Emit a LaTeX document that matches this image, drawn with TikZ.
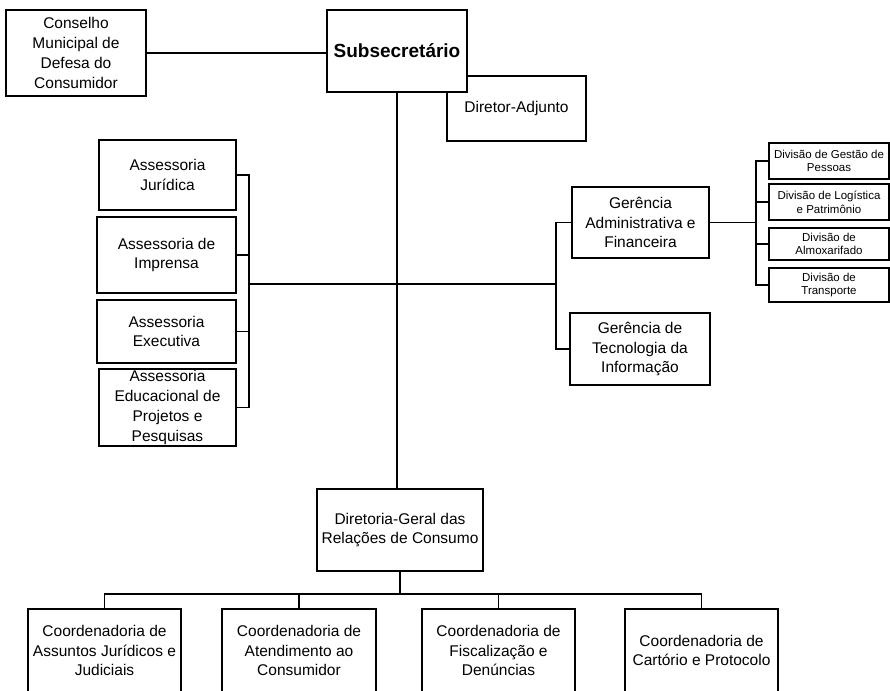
\documentclass[tikz,border=0pt]{standalone}
\usepackage{fontspec}
\setmainfont{Liberation Sans}
\begin{document}
\begin{tikzpicture}[x=1pt,y=-1pt,
  box/.style={draw=black,fill=white,line width=1.4pt,inner sep=0pt,align=center,
    font=\fontsize{15.5}{19.8}\selectfont},
  smallbox/.style={box,font=\fontsize{11.5}{13.7}\selectfont},
  conn/.style={draw=black,line width=1.3pt}]
\useasboundingbox (0,0) rectangle (890,690);
\clip (0,0) rectangle (890,690);
% top
\node[box,minimum width=140,minimum height=86] (cons) at (76,53) {Conselho\\Municipal de\\Defesa do\\Consumidor};
\node[box,minimum width=139,minimum height=65] (adj) at (516.5,108.5) {Diretor-Adjunto};
\node[box,minimum width=140,minimum height=82,font=\fontsize{19}{23}\selectfont\bfseries] (sub) at (397,51) {Subsecretário};
% assessorias
\node[box,minimum width=137,minimum height=70] (aj) at (167.5,175) {Assessoria\\Jurídica};
\node[box,minimum width=139,minimum height=76] (ai) at (166.5,255) {Assessoria de\\Imprensa};
\node[box,minimum width=139,minimum height=63] (ae) at (166.5,331.5) {Assessoria\\Executiva};
\node[box,minimum width=137,minimum height=77] (aed) at (167.5,407.5) {Assessoria\\Educacional de\\Projetos e\\Pesquisas};
% gerencias
\node[box,minimum width=137,minimum height=71] (ga) at (640.5,222.5) {Gerência\\Administrativa e\\Financeira};
\node[box,minimum width=140,minimum height=72] (gt) at (640,349) {Gerência de\\Tecnologia da\\Informação};
% divisoes
\node[smallbox,minimum width=120,minimum height=36] (d1) at (829,161) {Divisão de Gestão de\\Pessoas};
\node[smallbox,minimum width=120,minimum height=36] (d2) at (829,202) {Divisão de Logística\\e Patrimônio};
\node[smallbox,minimum width=120,minimum height=32] (d3) at (829,244) {Divisão de\\Almoxarifado};
\node[smallbox,minimum width=120,minimum height=34] (d4) at (829,285) {Divisão de\\Transporte};
% diretoria
\node[box,minimum width=166,minimum height=82] (dg) at (400,530) {Diretoria-Geral das\\Relações de Consumo};
% coordenadorias
\node[box,minimum width=153,minimum height=83] (c1) at (104.5,650.5) {Coordenadoria de\\Assuntos Jurídicos e\\Judiciais};
\node[box,minimum width=154,minimum height=83] (c2) at (299,650.5) {Coordenadoria de\\Atendimento ao\\Consumidor};
\node[box,minimum width=153,minimum height=83] (c3) at (498.5,650.5) {Coordenadoria de\\Fiscalização e\\Denúncias};
\node[box,minimum width=153,minimum height=83] (c4) at (701.5,650.5) {Coordenadoria de\\Cartório e Protocolo};
% connectors
\coordinate (j) at (397,284);
\coordinate (lb) at (249,284);
\coordinate (rb) at (556,284);
\coordinate (db) at (756,222.5);
\coordinate (bb) at (400,594);
\draw[conn] (cons.east) -- (cons.east -| sub.west);
\draw[conn] (sub.south) -- (sub.south |- dg.north);
\draw[conn] (lb) -- (rb);
\draw[conn] (aj.east) -| (lb);
\draw[conn] (aed.east) -| (lb);
\draw[conn] (ai.east) -- (ai.east -| lb);
\draw[conn] (ae.east) -- (ae.east -| lb);
\draw[conn] (ga.west) -| (rb);
\draw[conn] (gt.west) -| (rb);
\draw[conn] (ga.east) -- (db);
\draw[conn] (d1.west) -| (db);
\draw[conn] (d4.west) -| (db);
\draw[conn] (d2.west) -- (d2.west -| db);
\draw[conn] (d3.west) -- (d3.west -| db);
\draw[conn] (dg.south) -- (bb);
\draw[conn] (bb) -| (c1.north);
\draw[conn] (bb) -| (c4.north);
\draw[conn] (c2.north) -- (c2.north |- bb);
\draw[conn] (c3.north) -- (c3.north |- bb);
\end{tikzpicture}
\end{document}
